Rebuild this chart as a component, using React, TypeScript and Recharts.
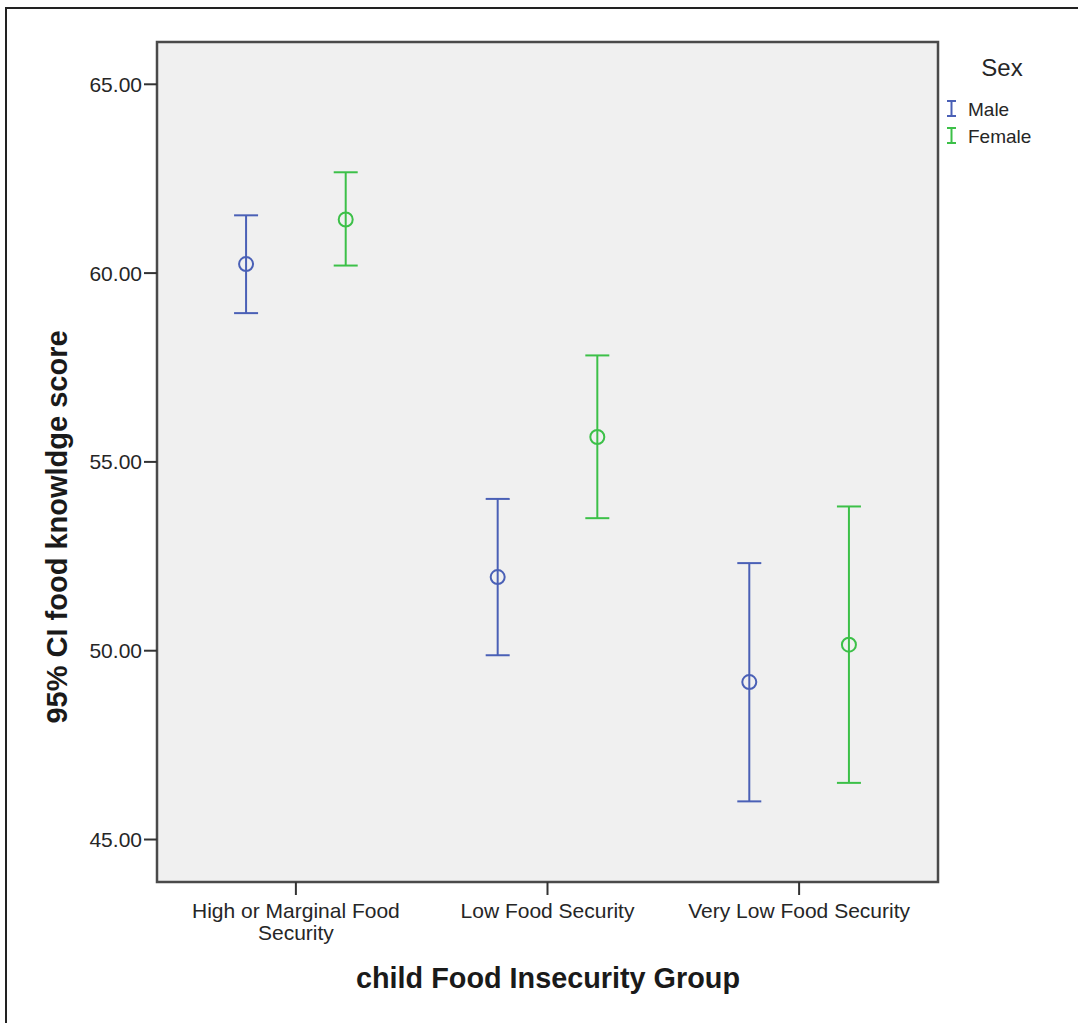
import React from 'react';
import { ScatterChart, Scatter, XAxis, YAxis, ErrorBar, CartesianGrid, ReferenceArea, Legend } from 'recharts';

// food knowledge score, 95% CI by child food insecurity group and sex
const groups = ['High or Marginal Food Security', 'Low Food Security', 'Very Low Food Security'];

const maleMean = [60.24, 51.95, 49.17];
const maleLower = [58.94, 49.88, 46.01];
const maleUpper = [61.53, 54.02, 52.32];

const femaleMean = [61.42, 55.66, 50.16];
const femaleLower = [60.2, 53.51, 46.5];
const femaleUpper = [62.67, 57.82, 53.82];

const yTicks = [45, 50, 55, 60, 65];

const MALE = '#4a60b6';
const FEMALE = '#3cc048';
const FONT = '"Liberation Sans", Arial, sans-serif';
const TEXT = '#262626';
const DODGE = 0.198;

const build = (mean: number[], lo: number[], hi: number[], shift: number) =>
  mean.map((m, i) => ({ x: i + shift, y: m, ci: [m - lo[i], hi[i] - m] }));

const maleData = build(maleMean, maleLower, maleUpper, -DODGE);
const femaleData = build(femaleMean, femaleLower, femaleUpper, DODGE);

const series = [
  { name: 'Male', color: MALE },
  { name: 'Female', color: FEMALE },
];

function wrap(label: string, max = 22) {
  const out: string[] = [];
  let cur = '';
  for (const w of label.split(' ')) {
    const next = cur ? cur + ' ' + w : w;
    if (next.length > max && cur) {
      out.push(cur);
      cur = w;
    } else cur = next;
  }
  if (cur) out.push(cur);
  return out;
}

const XTick = (props: any) => {
  const { x, y, payload } = props;
  const lines = wrap(groups[payload.value] ?? '');
  return (
    <text x={x} y={y} textAnchor="middle" fontSize={21} fontFamily={FONT} fill={TEXT}>
      {lines.map((l, i) => (
        <tspan key={i} x={x} dy={i === 0 ? '0.71em' : 21.6}>
          {l}
        </tspan>
      ))}
    </text>
  );
};

const dot = (color: string) => (props: any) =>
  <circle cx={props.cx} cy={props.cy} r={7} fill="none" stroke={color} strokeWidth={2} />;

const LegendBox = () => (
  <div style={{ position: 'relative', width: 138, height: 110, fontFamily: FONT, color: TEXT }}>
    <div style={{ position: 'absolute', left: 0, top: 6, width: 124, textAlign: 'center', fontSize: 24, lineHeight: 1 }}>
      Sex
    </div>
    {series.map((s, i) => (
      <React.Fragment key={s.name}>
        <svg style={{ position: 'absolute', left: 6, top: 50 + i * 27 }} width={11} height={17}>
          <line x1={5.5} y1={1} x2={5.5} y2={16} stroke={s.color} strokeWidth={2} />
          <line x1={1} y1={1} x2={10} y2={1} stroke={s.color} strokeWidth={2} />
          <line x1={1} y1={16} x2={10} y2={16} stroke={s.color} strokeWidth={2} />
        </svg>
        <div style={{ position: 'absolute', left: 28, top: 50 + i * 27, fontSize: 19, lineHeight: 1 }}>{s.name}</div>
      </React.Fragment>
    ))}
  </div>
);

export default function App() {
  return (
    <div style={{ position: 'absolute', left: 0, top: 0, width: 1078, height: 1023, overflow: 'hidden', background: '#fff' }}>
      <div
        style={{
          position: 'absolute',
          left: 5,
          top: 7,
          width: 1200,
          height: 1200,
          borderTop: '2px solid #222',
          borderLeft: '2px solid #222',
        }}
      />
      <ScatterChart width={1078} height={1023} margin={{ top: 42, right: 140, left: 0, bottom: 0 }}>
        <CartesianGrid horizontal={false} vertical={false} fill="#f0f0f0" />
        <XAxis
          type="number"
          dataKey="x"
          domain={[-0.552, 2.552]}
          ticks={[0, 1, 2]}
          allowDataOverflow
          height={141}
          tick={<XTick />}
          tickSize={13}
          tickMargin={8}
          axisLine={false}
          tickLine={{ stroke: '#333', strokeWidth: 2 }}
        />
        <YAxis
          type="number"
          dataKey="y"
          domain={[43.875, 66.12]}
          ticks={yTicks}
          allowDataOverflow
          width={157}
          tickSize={13}
          tickMargin={2}
          tickFormatter={(v: number) => v.toFixed(2)}
          tick={{ fontSize: 21, fontFamily: FONT, fill: TEXT }}
          axisLine={false}
          tickLine={{ stroke: '#333', strokeWidth: 2 }}
        />
        <ReferenceArea
          x1={-0.552}
          x2={2.552}
          y1={43.875}
          y2={66.12}
          fill="none"
          stroke="#4a4a4a"
          strokeWidth={2.5}
          ifOverflow="visible"
        />
        <Scatter name="Male" data={maleData} shape={dot(MALE)} isAnimationActive={false}>
          <ErrorBar dataKey="ci" direction="y" width={12} stroke={MALE} strokeWidth={2} isAnimationActive={false} />
        </Scatter>
        <Scatter name="Female" data={femaleData} shape={dot(FEMALE)} isAnimationActive={false}>
          <ErrorBar dataKey="ci" direction="y" width={12} stroke={FEMALE} strokeWidth={2} isAnimationActive={false} />
        </Scatter>
        <Legend
          layout="horizontal"
          align="center"
          verticalAlign="middle"
          content={<LegendBox />}
          wrapperStyle={{ left: 940, top: 50, width: 138, height: 110 }}
        />
      </ScatterChart>
      <div
        style={{
          position: 'absolute',
          left: 548,
          top: 964,
          transform: 'translateX(-50%)',
          whiteSpace: 'nowrap',
          fontFamily: FONT,
          fontWeight: 'bold',
          fontSize: 28.8,
          lineHeight: 1,
          color: '#1a1a1a',
        }}
      >
        child Food Insecurity Group
      </div>
      <div
        style={{
          position: 'absolute',
          left: 57,
          top: 527,
          transform: 'translate(-50%, -50%) rotate(-90deg)',
          whiteSpace: 'nowrap',
          fontFamily: FONT,
          fontWeight: 'bold',
          fontSize: 29,
          lineHeight: 1,
          color: '#1a1a1a',
        }}
      >
        95% CI food knowldge score
      </div>
    </div>
  );
}
